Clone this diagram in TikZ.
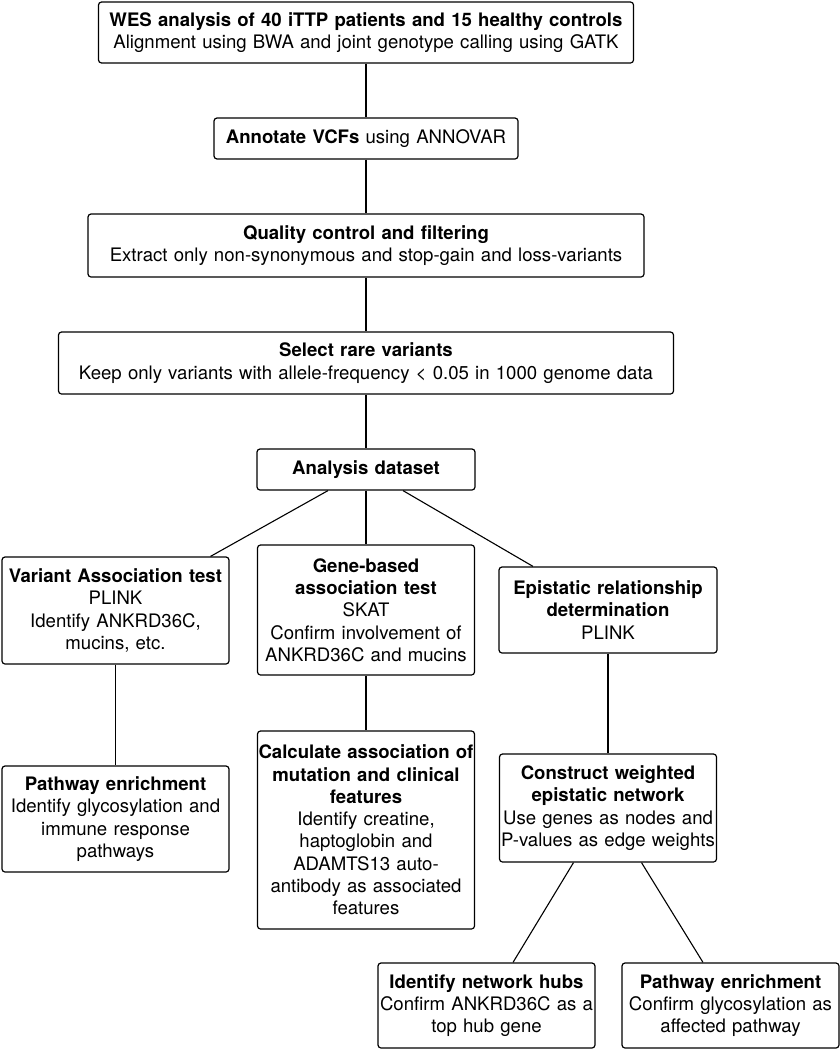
\documentclass[tikz,border=0pt]{standalone}
\usepackage{fontspec}
\setmainfont{TeX Gyre Heros}
\usetikzlibrary{calc}

\begin{document}
\begin{tikzpicture}[x=0.5pt, y=-0.5pt, font=\fontsize{9.3}{11.15}\selectfont,
    box/.style={draw, line width=0.6pt, rounded corners=1.5pt, align=center, inner sep=0pt},
    link/.style={line width=0.55pt}]

  % page frame
  \useasboundingbox (0,0) rectangle (840,1050);

  % Main pipeline
  \node[box, text width=267.5pt, minimum height=30.5pt] (wes) at (366,32.5)
    {\textbf{WES analysis of 40 iTTP patients and 15 healthy controls}\\
     Alignment using BWA and joint genotype calling using GATK};
  \node[box, text width=152pt, minimum height=20.5pt] (annot) at (366,138.5)
    {\textbf{Annotate VCFs} using ANNOVAR};
  \node[box, text width=278pt, minimum height=31.5pt] (qc) at (366,245.5)
    {\textbf{Quality control and filtering}\\
     Extract only non-synonymous and stop-gain and loss-variants};
  \node[box, text width=307.5pt, minimum height=31pt] (rare) at (366,363)
    {\textbf{Select rare variants}\\
     Keep only variants with allele-frequency < 0.05 in 1000 genome data};
  \node[box, text width=109pt, minimum height=20.5pt] (data) at (366,469.5)
    {\textbf{Analysis dataset}};

  % Three analyses
  \node[box, text width=113.5pt, minimum height=53.5pt] (vat) at (115.5,610.5)
    {\textbf{Variant Association test}\\PLINK\\Identify ANKRD36C,\\mucins, etc.};
  \node[box, text width=108.5pt, minimum height=65pt] (gene) at (366,610)
    {\textbf{Gene-based}\\\textbf{association test}\\SKAT\\
     Confirm involvement of\\ANKRD36C and mucins};
  \node[box, text width=109pt, minimum height=43pt] (epi) at (608,610)
    {\textbf{Epistatic relationship}\\\textbf{determination}\\PLINK};

  % Follow-up steps
  \node[box, text width=113.5pt, minimum height=53pt] (path1) at (115.5,819)
    {\textbf{Pathway enrichment}\\Identify glycosylation and\\immune response\\pathways};
  \node[box, text width=108.5pt, minimum height=99pt] (clin) at (366,830)
    {\textbf{Calculate association of}\\\textbf{mutation and clinical}\\\textbf{features}\\
     Identify creatine,\\haptoglobin and\\ADAMTS13 auto-\\antibody as associated\\features};
  \node[box, text width=108.5pt, minimum height=54pt] (net) at (608,808)
    {\textbf{Construct weighted}\\\textbf{epistatic network}\\
     Use genes as nodes and\\P-values as edge weights};
  \node[box, text width=108.5pt, minimum height=42.5pt] (hubs) at (486.5,1005.5)
    {\textbf{Identify network hubs}\\Confirm ANKRD36C as a\\top hub gene};
  \node[box, text width=108.5pt, minimum height=42.5pt] (path2) at (730.5,1005.5)
    {\textbf{Pathway enrichment}\\Confirm glycosylation as\\affected pathway};

  % Connectors
  \draw[link] (wes) -- (annot);
  \draw[link] (annot) -- (qc);
  \draw[link] (qc) -- (rare);
  \draw[link] (rare) -- (data);
  \draw[link] ($(data.south)+(-38,0)$) -- ($(vat.north)+(95,0)$);
  \draw[link] (data) -- (gene);
  \draw[link] ($(data.south)+(37,0)$) -- ($(epi.north)+(-75,0)$);
  \draw[link] (vat) -- (path1);
  \draw[link] (gene) -- (clin);
  \draw[link] (epi) -- (net);
  \draw[link] ($(net.south)+(-34.5,0)$) -- ($(hubs.north)+(26.5,0)$);
  \draw[link] ($(net.south)+(33.5,0)$) -- ($(path2.north)+(-27.5,0)$);

\end{tikzpicture}
\end{document}
